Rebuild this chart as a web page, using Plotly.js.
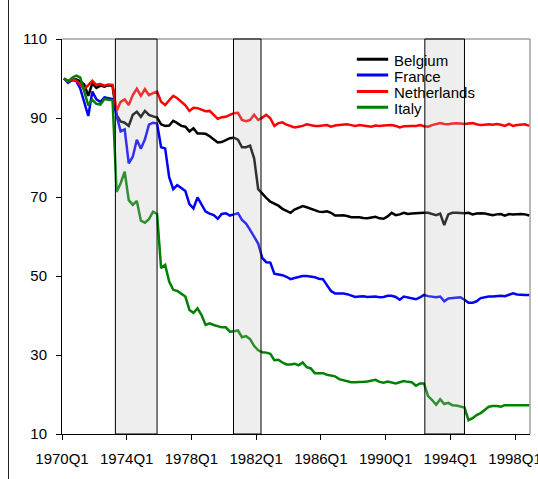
<!DOCTYPE html>
<html>
<head>
<meta charset="utf-8">
<script src="https://cdn.plot.ly/plotly-3.0.1.min.js"></script>
<style>html,body{margin:0;padding:0;background:#fff;}#chart{width:538px;height:479px;}</style>
</head>
<body>
<div id="chart"></div>
<script>
// ---- data ----
const seriesNames = ["Belgium", "France", "Netherlands", "Italy"];
const seriesColors = ["#000000", "#0000ff", "#ff0000", "#008000"];

const belgium = [100,99.2,99.6,99.8,99.3,98.5,95.6,98.8,97.6,98.2,97.9,98.3,98.1,90.8,89.1,88.8,88,90.8,91.6,90.3,
91.8,90.8,90.4,90.1,88.4,88,88.1,89.3,88.7,88,87.8,86.6,87.4,86.1,86.1,86,85.4,84.6,83.8,83.9,
84.4,84.9,85,84.5,82.6,82.6,83,79.8,72,70.8,69.8,68.8,68.3,67.8,67,66.4,66,66.8,67.3,67.7,
67.4,67,66.5,66.3,66.2,66.4,66,65.3,65.3,65.4,65.2,64.9,64.9,64.9,64.7,64.6,64.8,65,64.6,64.5,
65.1,66,65.4,65.6,66,65.7,65.8,65.9,65.9,66,66,65.7,65.4,65.8,62.9,65.6,66,66,65.9,65.9,
66,65.6,65.8,65.9,65.8,65.6,65.4,65.6,65.7,65.3,65.7,65.6,65.7,65.7,65.6,65.3];

const france = [100,98.9,99.6,99.4,97.5,94,90.5,96.7,94.7,94.1,95.2,95,94.8,90.6,86.6,87.1,78.5,80.2,84.5,82.2,
84.6,88.3,88.8,88.6,82.6,82.3,75,72,73,72.3,71.5,68.2,67.1,69.9,68,66.3,65.8,65.4,64.5,65.7,
65.9,65.3,65.6,65.9,64.2,63.3,61.7,59.8,58.2,54.6,53.5,53.4,50.6,50.4,50.2,49.8,49.2,49.5,49.7,50,
50,49.9,49.7,49.3,49.2,47.7,46.2,45.6,45.6,45.6,45.4,45,44.7,44.8,44.9,44.7,44.8,44.8,44.6,44.7,
45,45,44.7,44,44.8,44.6,44.3,44.1,44.6,45.2,44.9,44.8,44.6,44.8,43.6,44.3,44.4,44.4,44.6,44,
43.2,43.2,43.6,44.4,44.6,44.8,44.8,44.9,45,44.9,45.2,45.6,45.3,45.2,45.2,45.2];

const netherlands = [100,99.4,99.7,99.5,98.5,97.3,98.3,99.4,98.4,98.6,98.2,98.5,98.4,91.8,94.1,94.7,93.3,95.8,97.4,95.6,
97.3,95.8,96.3,96.7,94.1,93.3,94.5,95.6,95,94,93.2,91.8,92.6,92.5,92,91.7,91.8,90.8,89.8,90.2,
90.3,90.8,91.2,91.3,89.5,89.2,89.5,90.8,89.5,90.1,90.8,89.9,88,88.7,88.9,88.3,87.9,87.6,87.8,88,
88.4,88.2,88,88,88.1,88.2,87.8,88.1,88.2,88.3,88.4,88.2,88,88.2,88.1,88,87.8,88.1,88,88.1,
88.2,88.2,88,87.6,87.9,88,88,88,88.2,87.9,87.8,88.2,88.4,88.7,88.5,88.4,88.6,88.7,88.6,88.5,
88.6,88.7,88.4,88.2,88.3,88.4,88.3,88.5,88.3,88,88.5,88,88.2,88.3,88.4,88];

const italy = [100,99.2,100.2,100.7,100.3,96.8,93.2,94.6,93.6,93.4,94.8,94.6,94.5,71.3,73.5,76.4,69.2,68,69,64,
63.5,64.4,66.3,65.7,52,52.8,48.6,46.5,46.2,45.5,44.8,41.4,40.7,41.8,40.1,37.6,38,37.6,37.3,37,
37,35.9,36,36.2,34.5,34.8,34,32.3,31.2,30.7,30.6,30.3,28.7,28.8,28.1,27.6,27.6,27.8,27.4,28.1,
26.9,26.6,25.4,25.4,25.4,25,24.8,24.6,23.9,23.6,23.3,23.1,23.1,23.1,23.2,23.3,23.5,23.7,23.2,23,
23.3,23.1,22.8,23.1,23.4,23.2,23.1,22.2,22.8,22.8,19.6,18.6,17.4,18.8,17.6,17.9,17.3,17.2,17,16.7,
13.5,14,14.8,15.3,16.1,16.9,17.1,17.1,16.9,17.3,17.3,17.3,17.3,17.3,17.3,17.3];

const tickLabels = ["1970Q1","1974Q1","1978Q1","1982Q1","1986Q1","1990Q1","1994Q1","1998Q1"];
const yTicks = [10, 30, 50, 70, 90, 110];
// shaded periods, in quarters elapsed since 1970Q1
const shadeStart = [13.2, 42.4, 89.7];
const shadeEnd = [23.5, 49.2, 99.5];

// ---- build ----
const firstYear = 1970;
const quarters = belgium.map((_, i) => (firstYear + Math.floor(i / 4)) + "Q" + (i % 4 + 1));
const xpos = quarters.map((_, i) => i + 0.5);
const tickPos = tickLabels.map(t => (parseInt(t) - firstYear) * 4 + (parseInt(t.slice(5)) - 1));
const allSeries = [belgium, france, netherlands, italy];

const FONT = "Liberation Sans, Arial, sans-serif";

const traces = allSeries.map((ys, k) => ({
  x: xpos, y: ys, type: "scatter", mode: "lines", name: seriesNames[k],
  text: quarters, hoverinfo: "text+y",
  line: {color: seriesColors[k], width: 2.5}
}));

const shapes = [];
shadeStart.forEach((s, i) => {
  shapes.push({type: "rect", xref: "x", yref: "paper", x0: s, x1: shadeEnd[i], y0: 0, y1: 1,
    fillcolor: "rgba(190,190,190,0.26)", line: {width: 0}, layer: "above"});
  shapes.push({type: "rect", xref: "x", yref: "paper", x0: s, x1: shadeEnd[i], y0: 0, y1: 1,
    fillcolor: "rgba(0,0,0,0)", line: {width: 1, color: "#000"}, layer: "above"});
});
// plot frame (top & right, grey)
shapes.push({type: "line", xref: "paper", yref: "paper", x0: 0, x1: 1, y0: 1, y1: 1, line: {color: "#a0a0a0", width: 1.5}, layer: "below"});
shapes.push({type: "line", xref: "paper", yref: "paper", x0: 1, x1: 1, y0: 0, y1: 1, line: {color: "#a0a0a0", width: 1.5}, layer: "below"});
// outer chart border (left)
shapes.push({type: "line", xref: "paper", yref: "paper", x0: -0.1143, x1: -0.1143, y0: -0.12, y1: 1.12, line: {color: "#222", width: 1}});

// custom legend
const legY = [0.949, 0.909, 0.867, 0.827];
const annotations = [];
seriesNames.forEach((n, k) => {
  shapes.push({type: "line", xref: "paper", yref: "paper", x0: 0.630, x1: 0.697, y0: legY[k], y1: legY[k],
    line: {color: seriesColors[k], width: 3}});
  annotations.push({xref: "paper", yref: "paper", x: 0.7045, y: legY[k] - 0.003, xanchor: "left", yanchor: "middle",
    text: n, showarrow: false, font: {family: FONT, size: 15, color: "#000"}});
});

const layout = {
  width: 538, height: 479,
  margin: {l: 62, r: 8, t: 39, b: 45},
  paper_bgcolor: "#fff", plot_bgcolor: "#fff",
  showlegend: false,
  font: {family: FONT, size: 15, color: "#000"},
  xaxis: {range: [0, 115.7], tickmode: "array", tickvals: tickPos, ticktext: tickLabels,
    ticks: "outside", ticklen: 5, tickcolor: "#000", tickwidth: 1,
    showline: true, linecolor: "#000", linewidth: 1, showgrid: false, zeroline: false,
    ticklabeloverflow: "allow",
    tickfont: {family: FONT, size: 15, color: "#000"}, ticklabelstandoff: 6},
  yaxis: {range: [10, 110], tickmode: "array", tickvals: yTicks,
    ticks: "outside", ticklen: 5, tickcolor: "#000", tickwidth: 1,
    showline: true, linecolor: "#000", linewidth: 1, showgrid: false, zeroline: false,
    tickfont: {family: FONT, size: 15, color: "#000"}, ticklabelstandoff: 6},
  shapes: shapes,
  annotations: annotations
};

Plotly.newPlot("chart", traces, layout, {displayModeBar: false, staticPlot: true});
</script>
</body>
</html>
